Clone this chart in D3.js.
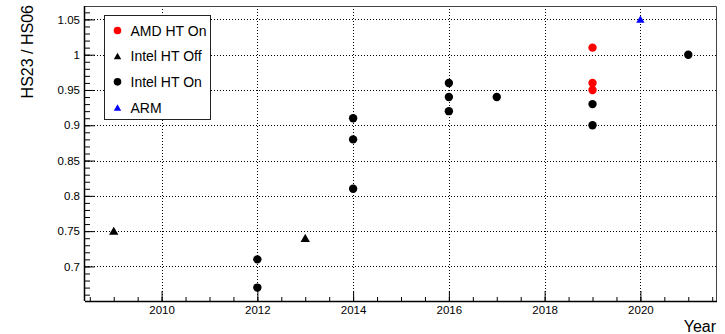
<!DOCTYPE html>
<html>
<head>
<meta charset="utf-8">
<script src="https://cdn.jsdelivr.net/npm/d3@7"></script>
<style>
  html, body { margin: 0; padding: 0; background: #fff; }
  svg { display: block; font-family: "Liberation Sans", Arial, sans-serif; }
</style>
</head>
<body>
<div id="root"></div>
<script>
const svgWidth = 725;
const svgHeight = 334;

// series
const amdYears = [2019, 2019, 2019];
const amdValues = [1.01, 0.96, 0.95];

const intelOffYears = [2009, 2013];
const intelOffValues = [0.75, 0.74];

const intelOnYears = [2012, 2012, 2014, 2014, 2014, 2016, 2016, 2016, 2017, 2019, 2019, 2021];
const intelOnValues = [0.71, 0.67, 0.91, 0.88, 0.81, 0.96, 0.94, 0.92, 0.94, 0.93, 0.90, 1.00];

const armYears = [2020];
const armValues = [1.05];

const xTickLabels = [2010, 2012, 2014, 2016, 2018, 2020];
const yTickLabels = [0.7, 0.75, 0.8, 0.85, 0.9, 0.95, 1, 1.05];

const legendNames = ["AMD HT On", "Intel HT Off", "Intel HT On", "ARM"];

const frame = { left: 85, right: 717, top: 6, bottom: 301 };

const xScale = d3.scaleLinear()
  .domain([2008.4, 2021.6])
  .range([frame.left, frame.right]);

const yScale = d3.scaleLinear()
  .domain([0.651, 1.069])
  .range([frame.bottom, frame.top]);

const mainSvg = d3.select("#root")
  .append("svg")
  .attr("width", svgWidth)
  .attr("height", svgHeight);

//Grid
const grid = mainSvg.append("g")
  .attr("stroke", "#000")
  .attr("stroke-width", 1)
  .attr("stroke-dasharray", "1,2");

grid.selectAll("line.vg")
  .data(xTickLabels)
  .join("line")
  .attr("class", "vg")
  .attr("x1", d => Math.round(xScale(d)) + 0.5)
  .attr("x2", d => Math.round(xScale(d)) + 0.5)
  .attr("y1", frame.top)
  .attr("y2", frame.bottom);

grid.selectAll("line.hg")
  .data(yTickLabels)
  .join("line")
  .attr("class", "hg")
  .attr("x1", frame.left)
  .attr("x2", frame.right)
  .attr("y1", d => Math.round(yScale(d)) + 0.5)
  .attr("y2", d => Math.round(yScale(d)) + 0.5);

//Frame (top and right)
mainSvg.append("path")
  .attr("d", `M${frame.left},${frame.top + 0.5}H${frame.right - 0.5}V${frame.bottom}`)
  .attr("fill", "none")
  .attr("stroke", "#444")
  .attr("stroke-width", 1);

//X axis
const xMinor = d3.range(2008.5, 2021.6, 0.5);

mainSvg.append("g")
  .attr("transform", `translate(0,${frame.bottom})`)
  .call(d3.axisBottom(xScale).tickValues(xMinor).tickSize(-4).tickFormat(""))
  .call(g => g.select(".domain").remove());

mainSvg.append("g")
  .attr("transform", `translate(0,${frame.bottom})`)
  .call(d3.axisBottom(xScale).tickValues(xTickLabels).tickSize(-10).tickPadding(5).tickFormat(d3.format("d")))
  .call(g => g.select(".domain").attr("d", `M${frame.left},0.5H${frame.right}`).attr("stroke-width", 1.5))
  .call(g => g.selectAll("text").attr("font-size", "11.5px").attr("font-family", "Liberation Sans, Arial, sans-serif").attr("fill", "#000"));

//Y axis
const yMinor = d3.range(0.66, 1.065, 0.01);

mainSvg.append("g")
  .attr("transform", `translate(${frame.left},0)`)
  .call(d3.axisLeft(yScale).tickValues(yMinor).tickSize(-5).tickFormat(""))
  .call(g => g.select(".domain").remove());

mainSvg.append("g")
  .attr("transform", `translate(${frame.left},0)`)
  .call(d3.axisLeft(yScale).tickValues(yTickLabels).tickSize(-10).tickPadding(5).tickFormat(d => d3.format("")(d)))
  .call(g => g.select(".domain").attr("d", `M-0.5,${frame.top}V${frame.bottom}`).attr("stroke-width", 1.5))
  .call(g => g.selectAll("text").attr("font-size", "11.5px").attr("font-family", "Liberation Sans, Arial, sans-serif").attr("fill", "#000"));

//Axis titles
mainSvg.append("text")
  .attr("text-anchor", "end")
  .attr("transform", `translate(33,${frame.top - 1}) rotate(-90)`)
  .attr("font-size", "16px")
  .attr("fill", "#000")
  .text("HS23 / HS06");

mainSvg.append("text")
  .attr("text-anchor", "end")
  .attr("x", 716)
  .attr("y", 332)
  .attr("font-size", "16px")
  .attr("fill", "#000")
  .text("Year");

//Markers
const triangle = d3.symbol().type(d3.symbolTriangle).size(38);
const smallTriangle = d3.symbol().type(d3.symbolTriangle).size(30);
const legendTriangle = d3.symbol().type(d3.symbolTriangle).size(24);

const toPoints = (years, values) => years.map((yr, i) => ({ x: yr, y: values[i] }));

const drawCircles = (data, color) => {
  mainSvg.append("g")
    .selectAll("circle")
    .data(data)
    .join("circle")
    .attr("cx", d => xScale(d.x))
    .attr("cy", d => yScale(d.y))
    .attr("r", 4.2)
    .attr("fill", color);
};

const drawTriangles = (data, color, sym) => {
  mainSvg.append("g")
    .selectAll("path")
    .data(data)
    .join("path")
    .attr("d", sym)
    .attr("transform", d => `translate(${xScale(d.x)},${yScale(d.y) + 1})`)
    .attr("fill", color);
};

drawTriangles(toPoints(intelOffYears, intelOffValues), "#000", triangle);
drawCircles(toPoints(intelOnYears, intelOnValues), "#000");
drawCircles(toPoints(amdYears, amdValues), "#ff0000");
drawTriangles(toPoints(armYears, armValues), "#0000ff", smallTriangle);

//Legend
const legend = mainSvg.append("g");

legend.append("rect")
  .attr("x", 104.5)
  .attr("y", 15.5)
  .attr("width", 106)
  .attr("height", 104)
  .attr("fill", "#fff")
  .attr("stroke", "#222")
  .attr("stroke-width", 1);

const legendY = d3.scalePoint()
  .domain(legendNames)
  .range([30.5, 107.5]);

const legendStyle = {
  "AMD HT On": ["circle", "#ff0000"],
  "Intel HT Off": ["triangle", "#000"],
  "Intel HT On": ["circle", "#000"],
  "ARM": ["triangle", "#0000ff"]
};

legendNames.forEach(name => {
  const [shape, color] = legendStyle[name];
  const cy = legendY(name);
  if (shape === "circle") {
    legend.append("circle").attr("cx", 117.5).attr("cy", cy).attr("r", 3.8).attr("fill", color);
  } else {
    legend.append("path").attr("d", legendTriangle).attr("transform", `translate(117.5,${cy + 1})`).attr("fill", color);
  }
  legend.append("text")
    .attr("x", 130.5)
    .attr("y", cy + 5)
    .attr("font-size", "14px")
    .attr("fill", "#000")
    .text(name);
});
</script>
</body>
</html>
